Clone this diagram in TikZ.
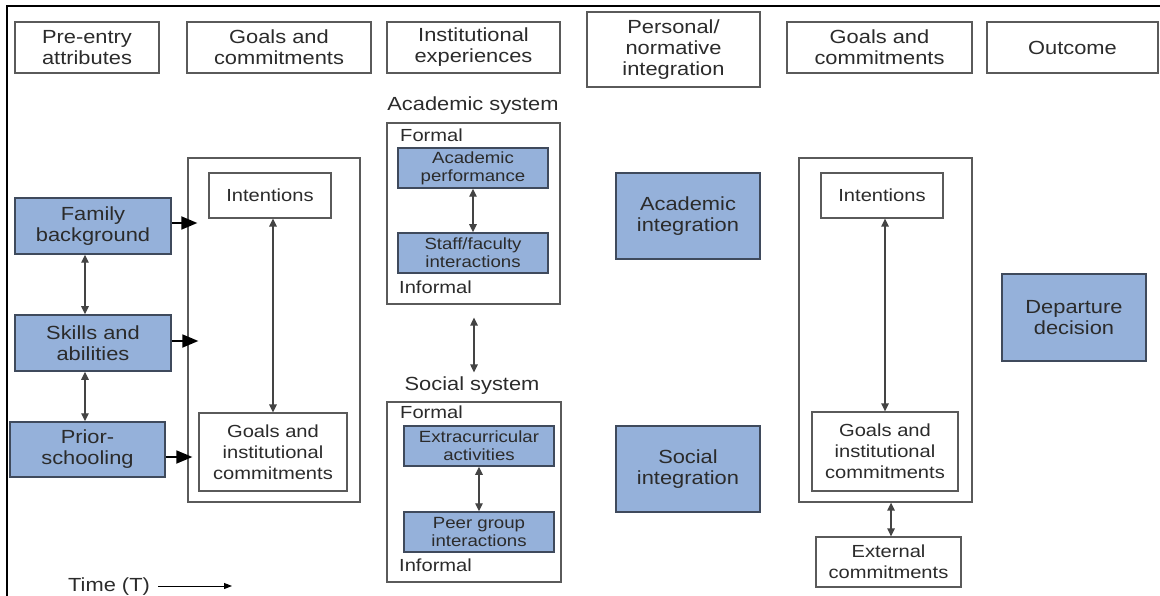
\documentclass[tikz,border=0pt]{standalone}
\usepackage{fontspec}
\setmainfont{Liberation Sans}[FakeStretch=1.15]
\usetikzlibrary{arrows.meta,calc}

\definecolor{ink}{HTML}{2B2B2B}
\definecolor{edge}{HTML}{5A5A5A}
\definecolor{boxblue}{HTML}{95B1DA}
\definecolor{blueedge}{HTML}{3F4A5C}
\definecolor{linkgray}{HTML}{444444}

\newcommand\szL{\fontsize{19}{21}\selectfont}
\newcommand\szM{\fontsize{17.5}{21}\selectfont}
\newcommand\szS{\fontsize{16.2}{18}\selectfont}

\tikzset{
  base/.style={inner sep=0pt, align=center, text=ink},
  headbox/.style={base, draw=edge, line width=1.3pt, fill=white, font=\szL},
  whitebox/.style={base, draw=edge, line width=1.3pt, fill=white, font=\szM},
  bluebox/.style={base, draw=blueedge, line width=1.5pt, fill=boxblue, font=\szL},
  smallblue/.style={bluebox, font=\szS},
  groupbox/.style={base, draw=edge, line width=1.3pt},
  tag/.style={base, font=\szM, anchor=west},
  title/.style={base, font=\szL},
  link/.style={draw=linkgray, line width=1.4pt,
    {Triangle[length=8pt,width=7.5pt]}-{Triangle[length=8pt,width=7.5pt]}},
  feed/.style={draw=black, line width=1.8pt, -{Triangle[length=16pt,width=13pt]}},
  timeline/.style={draw=black, line width=1pt, -{Triangle[length=8pt,width=6pt]}},
}

\begin{document}
\begin{tikzpicture}[x=1pt,y=-1pt]
\useasboundingbox (0,0) rectangle (1160,596);

% outer frame (top and left edges)
\draw[line width=2pt] (7,596) -- (7,6.5) -- (1160,6.5);

% column headers
\node[headbox, minimum width=144, minimum height=51] (h1) at (87,47.5) {Pre-entry\\attributes};
\node[headbox, minimum width=184, minimum height=51] (h2) at (279,47.5) {Goals and\\commitments};
\node[headbox, minimum width=173, minimum height=51] (h3) at (473.5,47.5) {Institutional\\experiences};
\node[headbox, minimum width=173, minimum height=75] (h4) at (673.5,49.5) {Personal/\\normative\\integration};
\node[headbox, minimum width=185, minimum height=51] (h5) at (879.5,47.5) {Goals and\\commitments};
\node[headbox, minimum width=171, minimum height=51] (h6) at (1072.5,47.5) {Outcome};

% pre-entry attributes
\node[bluebox, minimum width=156, minimum height=56] (fam) at (93,226) {Family\\background};
\node[bluebox, minimum width=156, minimum height=56] (skl) at (93,343) {Skills and\\abilities};
\node[bluebox, minimum width=155, minimum height=55] (pri) at (87.5,449.5) {Prior-\\schooling};

% goals and commitments (first)
\node[groupbox, minimum width=172, minimum height=344] (gA) at (274,330) {};
\node[whitebox, minimum width=122, minimum height=45] (int1) at (270,195.5) {Intentions};
\node[whitebox, minimum width=148, minimum height=78] (gic1) at (273,452) {Goals and\\institutional\\commitments};

% institutional experiences
\node[title] (acsyslbl) at (473,106) {Academic system};
\node[groupbox, minimum width=173, minimum height=181] (acsys) at (473.5,213.5) {};
\node[tag] (formal1) at (400,135) {Formal};
\node[tag] (informal1) at (399,287) {Informal};
\node[smallblue, minimum width=150, minimum height=40] (acperf) at (473,168) {Academic\\performance};
\node[smallblue, minimum width=150, minimum height=40] (staff) at (473,253) {Staff/faculty\\interactions};

\node[title] (soclbl) at (472,386) {Social system};
\node[groupbox, minimum width=174, minimum height=180] (socsys) at (474,492) {};
\node[tag] (formal2) at (400,412) {Formal};
\node[tag] (informal2) at (399,565) {Informal};
\node[smallblue, minimum width=150, minimum height=40] (extra) at (479,446) {Extracurricular\\activities};
\node[smallblue, minimum width=150, minimum height=40] (peer) at (479,532) {Peer group\\interactions};

% personal/normative integration
\node[bluebox, minimum width=144, minimum height=86] (acint) at (688,216) {Academic\\integration};
\node[bluebox, minimum width=144, minimum height=86] (socint) at (688,469) {Social\\integration};

% goals and commitments (second)
\node[groupbox, minimum width=173, minimum height=344] (gB) at (885.5,330) {};
\node[whitebox, minimum width=122, minimum height=45] (int2) at (882,195.5) {Intentions};
\node[whitebox, minimum width=146, minimum height=79] (gic2) at (885,451.5) {Goals and\\institutional\\commitments};
\node[whitebox, minimum width=145, minimum height=50] (ext) at (888.5,562) {External\\commitments};

% outcome
\node[bluebox, minimum width=144, minimum height=87] (dep) at (1074,317.5) {Departure\\decision};

% time axis
\node[title, anchor=base west] (time) at (68,591) {Time (T)};
\coordinate (timeend) at (232,586);

% connectors
\draw[feed] ($(fam.east)+(0,-3)$) -- ($(gA.west |- fam.east)+(10,-3)$);
\draw[feed] ($(skl.east)+(0,-2)$) -- ($(gA.west |- skl.east)+(11,-2)$);
\draw[feed] ($(pri.east)+(0,7.5)$) -- ($(gA.west |- pri.east)+(5,7.5)$);

\draw[link] ($(fam.south)+(-8,0)$) -- ($(skl.north)+(-8,0)$);
\draw[link] ($(skl.south)+(-8,0)$) -- ($(pri.north)+(-2.5,0)$);
\draw[link] ($(int1.south)+(3,0)$) -- (gic1.north);
\draw[link] (acperf.south) -- (staff.north);
\draw[link] ($(acsys.south)+(0.5,13)$) -- ($(socsys.north)+(0,-29)$);
\draw[link] (extra.south) -- (peer.north);
\draw[link] ($(int2.south)+(3,0)$) -- (gic2.north);
\draw[link] ($(gB.south)+(5.5,0)$) -- ($(ext.north)+(2.5,0)$);

\draw[timeline] ($(time.base east)+(8,-5)$) -- (timeend);
\end{tikzpicture}
\end{document}
